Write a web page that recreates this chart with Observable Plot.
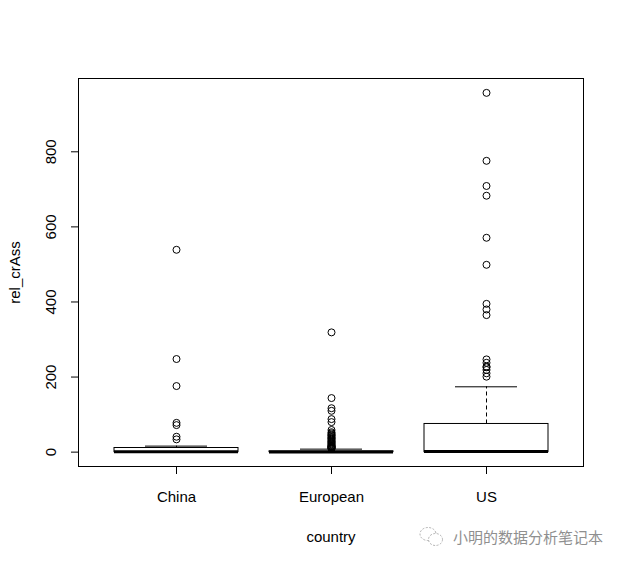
<!DOCTYPE html>
<html><head><meta charset="utf-8">
<script src="https://cdn.jsdelivr.net/npm/d3@7"></script>
<script src="https://cdn.jsdelivr.net/npm/@observablehq/plot@0.6"></script>
<style>
html,body{margin:0;padding:0;background:#fff;}
#wrap{position:relative;width:622px;height:565px;overflow:hidden;}
#wm{position:absolute;left:419px;top:526px;display:flex;align-items:center;color:#8f8f8f;font-family:"Noto Sans CJK SC",sans-serif;font-size:15px;line-height:20px;white-space:nowrap;}
#wm svg{margin-right:8px;}
</style></head><body>
<div id="wrap"><div id="chart"></div>
<div id="wm"><svg width="26" height="22" viewBox="0 0 26 22"><ellipse cx="9" cy="8" rx="8" ry="6.5" fill="none" stroke="#b0b0b0" stroke-width="1" stroke-dasharray="2,1.5"/><ellipse cx="16.5" cy="13.5" rx="7" ry="6" fill="#fff" stroke="#b0b0b0" stroke-width="1" stroke-dasharray="2,1.5"/></svg><span>小明的数据分析笔记本</span></div>
</div>
<script>
const countries = ["China", "European", "US"];
const q1 = [0, 0, 0];
const medians = [1, 0.5, 1.5];
const q3 = [11, 2, 75];
const whiskerLow = [0, 0, 0];
const whiskerHigh = [16, 8, 174];
const outChina = [539, 248, 176, 78, 72, 41, 34];
const outEuropean = [319, 144, 117, 110, 88, 80, 59, 53, 50, 47, 45, 43, 40, 38, 36, 34, 31, 29, 27, 25, 23, 21, 19, 17, 16, 15, 14, 13, 12, 11, 10, 9];
const outUS = [957, 776, 709, 683, 571, 499, 395, 380, 365, 247, 238, 228, 226, 219, 210, 201];
const yTicks = [0, 200, 400, 600, 800];
const xTitle = "country";
const yTitle = "rel_crAss";

const boxes = countries.map((c, i) => ({country: c, q1: q1[i], median: medians[i], q3: q3[i], lo: whiskerLow[i], hi: whiskerHigh[i]}));
const outLists = [outChina, outEuropean, outUS];
const outliers = countries.flatMap((c, i) => outLists[i].map(v => ({country: c, value: v})));

const allVals = [...q1, ...q3, ...whiskerLow, ...whiskerHigh, ...outliers.map(d => d.value)];
const vmin = d3.min(allVals), vmax = d3.max(allVals);
const pad = (vmax - vmin) * 0.04;

const font = "'Liberation Sans', Arial, sans-serif";
const chart = Plot.plot({
  width: 622,
  height: 565,
  marginLeft: 78,
  marginRight: 39,
  marginTop: 78,
  marginBottom: 99,
  style: {fontFamily: font, fontSize: "15px", color: "black", background: "white", overflow: "visible"},
  x: {type: "band", domain: countries, paddingInner: 0.2, paddingOuter: 0.22, align: 0.5, axis: null},
  y: {domain: [vmin - pad, vmax + pad], axis: null},
  marks: [
    Plot.ruleX(boxes, {x: "country", y1: "q3", y2: "hi", stroke: "black", strokeDasharray: "4,3"}),
    Plot.ruleX(boxes, {x: "country", y1: "lo", y2: "q1", stroke: "black", strokeDasharray: "4,3"}),
    Plot.tickY(boxes, {x: "country", y: "hi", stroke: "black", inset: 31}),
    Plot.tickY(boxes, {x: "country", y: "lo", stroke: "black", inset: 31}),
    Plot.barY(boxes, {x: "country", y1: "q1", y2: "q3", fill: "white", stroke: "black"}),
    Plot.tickY(boxes, {x: "country", y: "median", stroke: "black", strokeWidth: 3}),
    Plot.dot(outliers, {x: "country", y: "value", r: 3.5, stroke: "black", fill: "none", strokeWidth: 1}),
    Plot.frame({stroke: "black"}),
    Plot.axisX({tickSize: 8, tickPadding: 17, fontSize: 15, label: null}),
    Plot.axisY(yTicks, {tickSize: 7, tickFormat: () => "", label: null}),
    Plot.text(yTicks, {y: d => d, text: d => String(d), frameAnchor: "left", rotate: -90, dx: -23, lineAnchor: "bottom", textAnchor: "middle", fontSize: 15}),
    Plot.text([xTitle], {text: d => d, frameAnchor: "bottom", dy: 75, lineAnchor: "bottom", textAnchor: "middle", fontSize: 15}),
    Plot.text([yTitle], {text: d => d, frameAnchor: "left", rotate: -90, dx: -59, lineAnchor: "bottom", textAnchor: "middle", fontSize: 15})
  ]
});
document.getElementById("chart").appendChild(chart);
</script>
</body></html>
